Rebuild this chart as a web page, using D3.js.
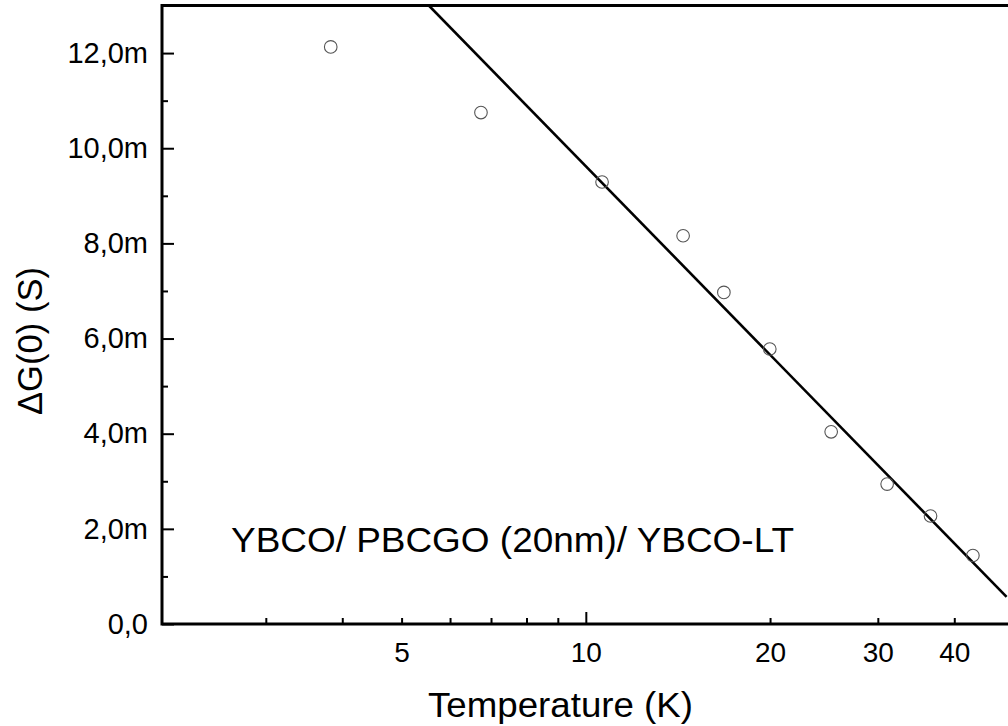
<!DOCTYPE html>
<html>
<head>
<meta charset="utf-8">
<script src="https://cdn.jsdelivr.net/npm/d3@7"></script>
<style>
	body{margin:0;background:#fff}
	text{font-family:"Liberation Sans",Arial,sans-serif;fill:#000}
</style>
</head>
<body>
<div id="chart"></div>
<script>
// measured points, G in mS
var temperature = [3.83, 6.74, 10.63, 14.42, 16.81, 19.98, 25.17, 31.07, 36.58, 42.9]
var deltaG = [12.13, 10.75, 9.29, 8.16, 6.97, 5.78, 4.04, 2.94, 2.27, 1.44]
// ends of the fitted line
var fitT = [5.54, 48.7]
var fitG = [13.0, 0.57]

var xTicks = [3,4,5,6,7,8,9,10,20,30,40]
var xMajor = [10]
var xLabels = {5:"5",10:"10",20:"20",30:"30",40:"40"}
var yMajor = [0,2,4,6,8,10,12]
var yMinor = [1,3,5,7,9,11]
var yLabels = ["0,0","2,0m","4,0m","6,0m","8,0m","10,0m","12,0m"]
var annotation = "YBCO/ PBCGO (20nm)/ YBCO-LT"

let margin = {top: 5.5, left: 162}
let width = 851.6
let height = 618.5

let svg = d3.select("#chart")
	.append("svg")
	.attr("width", 1008)
	.attr("height", 726)

let g = svg.append("g")
	.attr("transform", `translate(${margin.left},${margin.top})`)

let x = d3.scaleLog().domain([2.03, 50]).range([0, width])
let y = d3.scaleLinear().domain([0, 13]).range([height, 0])

// x axis
let xAxis = d3.axisBottom(x)
	.tickValues(xTicks)
	.tickSize(0)
	.tickPadding(18)
	.tickFormat(d => xLabels[d] || "")

let xg = g.append("g")
	.attr("transform", `translate(0,${height})`)
	.call(xAxis)
xg.select(".domain").remove()
xg.selectAll(".tick line")
	.attr("y2", d => xMajor.includes(d) ? -12 : -6)
	.attr("stroke", "#000")
	.attr("stroke-width", 2)
xg.selectAll(".tick text")
	.attr("font-size", 28)
	.attr("font-family", '"Liberation Sans",Arial,sans-serif')
	.attr("fill", "#000")

// y axis
let yAxis = d3.axisLeft(y)
	.tickValues(yMajor.concat(yMinor))
	.tickSize(0)
	.tickPadding(14)
	.tickFormat(d => yMajor.includes(d) ? yLabels[yMajor.indexOf(d)] : "")

let yg = g.append("g").call(yAxis)
yg.select(".domain").remove()
yg.selectAll(".tick line")
	.attr("x2", d => yMajor.includes(d) ? 12 : 6)
	.attr("stroke", "#000")
	.attr("stroke-width", 2)
yg.selectAll(".tick text")
	.attr("font-size", 29)
	.attr("font-family", '"Liberation Sans",Arial,sans-serif')
	.attr("fill", "#000")

// frame
g.append("rect")
	.attr("width", width)
	.attr("height", height)
	.attr("fill", "none")
	.attr("stroke", "#000")
	.attr("stroke-width", 3)

// fit line
g.append("clipPath").attr("id", "clip")
	.append("rect").attr("width", width).attr("height", height)

let fit = fitT.map((t, i) => ({t: t, g: fitG[i]}))
g.append("path")
	.datum(fit)
	.attr("clip-path", "url(#clip)")
	.attr("d", d3.line().x(d => x(d.t)).y(d => y(d.g)))
	.attr("fill", "none")
	.attr("stroke", "#000")
	.attr("stroke-width", 2.6)

// points
let points = temperature.map((t, i) => ({t: t, g: deltaG[i]}))
g.selectAll(".point")
	.data(points)
	.enter()
	.append("circle")
	.attr("class", "point")
	.attr("cx", d => x(d.t))
	.attr("cy", d => y(d.g))
	.attr("r", 6.3)
	.attr("fill", "none")
	.attr("stroke", "#555")
	.attr("stroke-width", 1.1)

// annotation
g.append("text")
	.attr("x", 69)
	.attr("y", y(1.51))
	.attr("font-size", 35)
	.attr("textLength", 563)
	.attr("lengthAdjust", "spacingAndGlyphs")
	.text(annotation)

// axis titles
svg.append("text")
	.attr("x", 560.5)
	.attr("y", 717)
	.attr("text-anchor", "middle")
	.attr("font-size", 35)
	.attr("textLength", 265)
	.attr("lengthAdjust", "spacingAndGlyphs")
	.text("Temperature (K)")

svg.append("text")
	.attr("transform", "translate(42,341) rotate(-90)")
	.attr("text-anchor", "middle")
	.attr("font-size", 35)
	.attr("textLength", 148)
	.attr("lengthAdjust", "spacingAndGlyphs")
	.text("ΔG(0) (S)")
</script>
</body>
</html>
